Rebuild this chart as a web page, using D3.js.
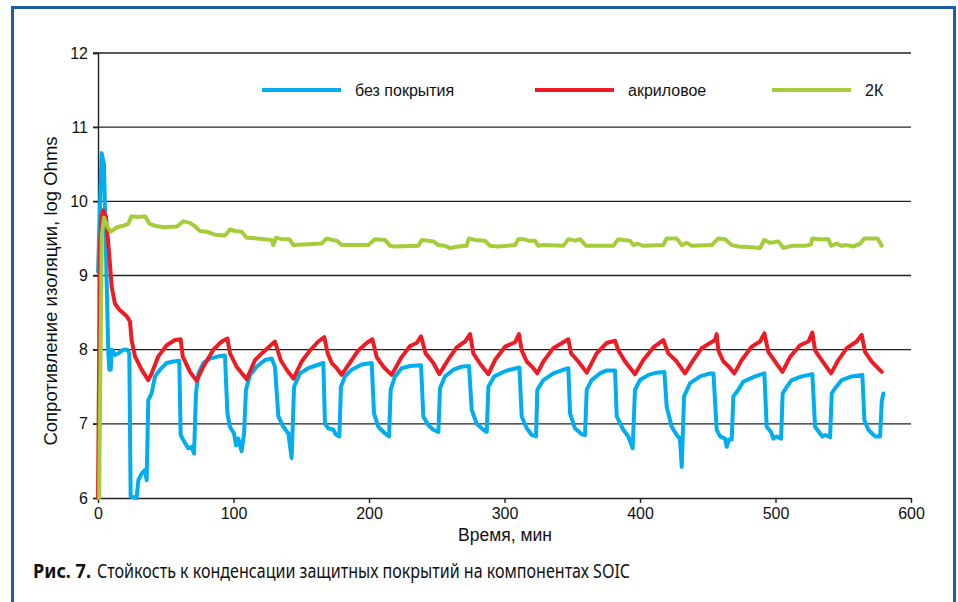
<!DOCTYPE html>
<html>
<head>
<meta charset="utf-8">
<script src="https://cdn.jsdelivr.net/npm/d3@7"></script>
<style>
  html, body { margin: 0; padding: 0; background: #fff; }
  svg { display: block; }
</style>
</head>
<body>
<div id="chart"></div>
<script>
(function () {
  'use strict';

  // Series: [time, log Ohms]
  const bare = [
    [0, 9.05], [2.7, 10.65], [4.4, 10.5], [7.6, 7.95], [8.4, 7.73], [9.4, 7.73], [10.1, 8.0], [12.5, 7.93],
    [15, 7.95], [18.7, 8.0], [21.6, 8.0], [23.1, 7.95], [24.1, 6.02], [28.5, 6.0], [29.8, 6.24], [32.2, 6.33],
    [34.7, 6.38], [35.9, 6.24], [37.1, 7.32], [39.6, 7.41], [42.1, 7.64], [45.8, 7.73], [50.7, 7.82], [55.6, 7.84],
    [60, 7.85], [61, 6.85], [64.2, 6.74], [66.7, 6.67], [69.1, 6.69], [70.9, 6.6], [72.3, 7.41], [74.1, 7.68],
    [77.7, 7.82], [82.7, 7.88], [88.8, 7.91], [93.7, 7.92], [95.5, 7.14], [97.4, 6.96], [100.4, 6.87], [101.9, 6.71],
    [103.6, 6.8], [106, 6.63], [107.8, 6.87], [109.2, 7.46], [112.2, 7.66], [117.1, 7.77], [123.2, 7.86], [128.2, 7.88],
    [130.6, 7.77], [133.1, 7.1], [136.8, 6.96], [140.5, 6.87], [142.9, 6.54], [144.7, 7.5], [149, 7.68], [155.2, 7.75],
    [161.4, 7.79], [166.3, 7.82], [167.5, 7.0], [170, 6.94], [173.7, 6.92], [175.4, 6.86], [178.1, 6.83], [179.3, 7.5],
    [182.3, 7.64], [187.2, 7.73], [194.6, 7.8], [202, 7.82], [203.7, 7.14], [206.9, 6.96], [211.8, 6.87], [214.8, 6.83],
    [216, 7.46], [219.2, 7.64], [224.1, 7.75], [230.3, 7.78], [238.4, 7.79], [240.1, 7.1], [243.8, 6.98], [247.5, 6.92],
    [251.2, 6.89], [252.4, 7.48], [256.1, 7.64], [262.3, 7.73], [268.4, 7.77], [273.8, 7.78], [275.8, 7.19], [279.5, 7.0],
    [284.4, 6.92], [286.9, 6.89], [288.1, 7.5], [292.5, 7.64], [300.4, 7.71], [304.1, 7.73], [311, 7.76], [312.7, 7.1],
    [316.4, 6.94], [320.1, 6.85], [323.3, 6.83], [324.2, 7.46], [328.7, 7.59], [336, 7.68], [342.2, 7.72], [347.1, 7.75],
    [348.4, 7.14], [352, 6.94], [357, 6.86], [359.4, 6.85], [360.7, 7.46], [364.3, 7.59], [370.5, 7.68], [375.4, 7.72],
    [381.6, 7.72], [382.8, 7.1], [387.7, 6.92], [391.4, 6.83], [394.6, 6.67], [396.3, 7.46], [400, 7.59], [406.2, 7.66],
    [412.3, 7.69], [418, 7.7], [419.7, 7.23], [423.4, 6.96], [427.1, 6.85], [429.5, 6.8], [430.8, 6.42], [432.5, 7.37],
    [437, 7.55], [444.3, 7.64], [451.7, 7.68], [454.2, 7.68], [456.6, 6.92], [459.1, 6.83], [462.8, 6.8], [464, 6.69],
    [465.7, 6.79], [467.7, 6.79], [468.9, 7.37], [472.6, 7.46], [476.3, 7.57], [484.9, 7.64], [491.8, 7.68], [493.5, 6.96],
    [496.7, 6.89], [498.4, 6.8], [500.9, 6.83], [504.1, 6.8], [505.3, 7.41], [508.3, 7.5], [512, 7.59], [519.3, 7.64],
    [527.2, 7.67], [529.2, 6.96], [532.9, 6.87], [534.6, 6.83], [536.6, 6.85], [540.3, 6.82], [541.5, 7.41], [544, 7.48],
    [548.9, 7.59], [556.2, 7.64], [564.1, 7.66], [565.6, 7.05], [568.5, 6.92], [573.5, 6.83], [577.2, 6.83], [578.4, 7.3],
    [579.6, 7.41]
  ];

  const acrylic = [
    [0, 6.0], [1.5, 9.4], [2.6, 9.8], [3.9, 9.88], [5.9, 9.79], [8.4, 9.25], [10.1, 8.85], [12.5, 8.62],
    [16.2, 8.53], [21.2, 8.45], [23.6, 8.38], [24.8, 8.13], [27.3, 7.91], [32.2, 7.73], [37.1, 7.59], [39.6, 7.68],
    [44.5, 7.91], [50.7, 8.06], [56.8, 8.13], [61, 8.14], [62.5, 7.91], [67.9, 7.7], [72.8, 7.58], [77.7, 7.77],
    [85.1, 8.0], [91.3, 8.11], [95.5, 8.15], [97.4, 7.95], [102.3, 7.77], [109.7, 7.6], [115.9, 7.86], [122, 7.97],
    [130.6, 8.11], [134.8, 7.86], [139.2, 7.73], [144.2, 7.61], [150.3, 7.84], [156.5, 7.99], [162.6, 8.11], [167, 8.17],
    [169.5, 7.95], [172.5, 7.82], [176.2, 7.75], [179.8, 7.66], [187.2, 7.86], [192.1, 7.99], [198.3, 8.09], [202.5, 8.14],
    [205.7, 7.9], [210.6, 7.77], [216.7, 7.66], [224.1, 7.9], [230.3, 8.05], [235.2, 8.09], [238.4, 8.18], [241.8, 7.95],
    [247.5, 7.82], [251.9, 7.67], [258.6, 7.87], [264.7, 8.03], [270.9, 8.11], [274.6, 8.21], [277, 7.95], [282, 7.81],
    [288.1, 7.67], [293, 7.86], [300.4, 8.04], [307.8, 8.1], [310.7, 8.21], [312.7, 7.99], [316.4, 7.84], [321.3, 7.75],
    [324.2, 7.68], [328.7, 7.84], [336, 8.02], [343.4, 8.1], [347.1, 8.14], [349.1, 7.95], [354.5, 7.84], [360.7, 7.69],
    [368, 7.95], [375.4, 8.09], [381.6, 8.12], [384, 7.99], [389, 7.84], [396.3, 7.67], [402.5, 7.86], [409.9, 8.03],
    [417.2, 8.13], [420.9, 7.95], [427.1, 7.84], [433.2, 7.68], [439.4, 7.86], [445.5, 8.02], [451.7, 8.09], [455.4, 8.13],
    [456.6, 8.21], [457.8, 7.99], [461.5, 7.84], [465.7, 7.77], [469.6, 7.68], [475.1, 7.86], [482.4, 8.04], [488.6, 8.11],
    [491.8, 8.22], [494.7, 7.97], [499.7, 7.84], [505.1, 7.7], [510.7, 7.9], [518.1, 8.06], [524.3, 8.11], [527.2, 8.23],
    [529.2, 7.99], [534.1, 7.86], [541, 7.68], [546.4, 7.86], [552.6, 8.02], [559.9, 8.11], [563.6, 8.2], [566.1, 7.97],
    [571, 7.84], [578.4, 7.7]
  ];

  const twoK = [
    [0.8, 6.0], [2.8, 9.55], [4.4, 9.78], [6.9, 9.66], [9.4, 9.59], [13.8, 9.65], [18.7, 9.67], [22.4, 9.7],
    [24.8, 9.8], [29.8, 9.79], [34.7, 9.8], [37.9, 9.7], [42.1, 9.67], [48.2, 9.65], [58.1, 9.66], [63, 9.73],
    [67.9, 9.71], [70.4, 9.68], [75.3, 9.6], [80.2, 9.59], [86.4, 9.55], [93.7, 9.54], [97.4, 9.62], [101.1, 9.6],
    [106, 9.59], [109.7, 9.51], [117.1, 9.5], [128.2, 9.48], [129.4, 9.41], [131.4, 9.51], [135.6, 9.49], [141.2, 9.49],
    [144.2, 9.41], [155.2, 9.42], [165, 9.43], [168.8, 9.5], [172.5, 9.48], [176.2, 9.47], [179.8, 9.41], [184.8, 9.41],
    [199.5, 9.41], [204.4, 9.49], [211.8, 9.48], [215.5, 9.4], [219.2, 9.39], [236.4, 9.4], [238.9, 9.48], [247.5, 9.46],
    [251.2, 9.41], [256.1, 9.4], [259.8, 9.37], [266, 9.39], [272, 9.4], [273.8, 9.5], [278.2, 9.48], [285.6, 9.47],
    [289.3, 9.4], [295.5, 9.39], [307.8, 9.41], [310.2, 9.49], [313.9, 9.49], [317.6, 9.47], [322.5, 9.47], [325, 9.4],
    [328.7, 9.41], [343.4, 9.4], [347.1, 9.49], [352, 9.47], [355.7, 9.49], [360.2, 9.4], [380.3, 9.4], [384, 9.49],
    [387.7, 9.48], [392.6, 9.47], [395.1, 9.41], [398, 9.43], [402.5, 9.4], [417.2, 9.41], [419.7, 9.5], [427.1, 9.5],
    [430.8, 9.41], [434.5, 9.44], [438.2, 9.4], [452.9, 9.41], [457.8, 9.5], [462.8, 9.49], [467.7, 9.41], [472.6, 9.39],
    [482.4, 9.38], [488.6, 9.37], [491.8, 9.48], [496, 9.44], [502.1, 9.46], [505.8, 9.37], [512, 9.4], [521.8, 9.4],
    [526.2, 9.42], [527.2, 9.5], [532.9, 9.49], [539, 9.49], [541, 9.4], [545.2, 9.43], [548.9, 9.4], [552.6, 9.41],
    [557.5, 9.39], [562.4, 9.43], [565.6, 9.5], [575.4, 9.5], [578.4, 9.4]
  ];

  const seriesNames = ['без покрытия', 'акриловое', '2К'];
  const xTicks = [0, 100, 200, 300, 400, 500, 600];
  const yTicks = [6, 7, 8, 9, 10, 11, 12];

  const W = 958, H = 602;
  const margin = { left: 98, right: 47, top: 53, bottom: 104 };
  const colors = ['#00aeef', '#ed1c24', '#a5cd39'];
  const font = 'Liberation Sans, Arial, sans-serif';

  const svg = d3.select('#chart').append('svg')
    .attr('width', W)
    .attr('height', H);

  svg.append('rect').attr('width', W).attr('height', H).attr('fill', '#fff');

  // blue frame, open past the bottom edge
  svg.append('rect')
    .attr('x', 12.5).attr('y', 7.5)
    .attr('width', 942).attr('height', 640)
    .attr('fill', 'none')
    .attr('stroke', '#1f5ca6')
    .attr('stroke-width', 3);

  const x = d3.scaleLinear().domain([0, 600]).range([margin.left, W - margin.right]);
  const y = d3.scaleLinear().domain([6, 12]).range([H - margin.bottom, margin.top]);

  // gridlines
  svg.append('g')
    .selectAll('line')
    .data(yTicks.filter(v => v > 6))
    .join('line')
    .attr('x1', x(0) - 5)
    .attr('x2', x(600))
    .attr('y1', d => y(d))
    .attr('y2', d => y(d))
    .attr('stroke', '#222')
    .attr('stroke-width', 1.4);

  // y axis
  const yAxis = svg.append('g')
    .attr('transform', `translate(${x(0)},0)`)
    .call(d3.axisLeft(y).tickValues(yTicks).tickSize(5).tickPadding(5).tickFormat(d3.format('d')));
  yAxis.select('.domain').attr('stroke', '#222').attr('stroke-width', 1.4);
  yAxis.selectAll('.tick line').attr('stroke', '#222').attr('stroke-width', 1.4);
  yAxis.selectAll('text').attr('font-family', font).attr('font-size', 16).attr('fill', '#111');

  // x axis
  const xAxis = svg.append('g')
    .attr('transform', `translate(0,${y(6)})`)
    .call(d3.axisBottom(x).tickValues(xTicks).tickSize(5).tickSizeOuter(0).tickPadding(5).tickFormat(d3.format('d')));
  xAxis.select('.domain').attr('stroke', '#222').attr('stroke-width', 1.4);
  xAxis.selectAll('.tick line').attr('stroke', '#222').attr('stroke-width', 1.4);
  xAxis.selectAll('text').attr('font-family', font).attr('font-size', 16).attr('fill', '#111');

  // series
  const line = d3.line().x(d => x(d[0])).y(d => y(d[1]));
  [bare, acrylic, twoK].forEach((data, i) => {
    svg.append('path')
      .datum(data)
      .attr('d', line)
      .attr('fill', 'none')
      .attr('stroke', colors[i])
      .attr('stroke-width', 4)
      .attr('stroke-linejoin', 'round')
      .attr('stroke-linecap', 'round');
  });

  // legend
  const legendX = [262, 535, 772];
  const legend = svg.append('g');
  seriesNames.forEach((name, i) => {
    legend.append('line')
      .attr('x1', legendX[i]).attr('x2', legendX[i] + 79)
      .attr('y1', 90).attr('y2', 90)
      .attr('stroke', colors[i])
      .attr('stroke-width', 4);
    legend.append('text')
      .attr('x', legendX[i] + 93)
      .attr('y', 95.5)
      .attr('font-family', font)
      .attr('font-size', 16)
      .attr('fill', '#111')
      .text(name);
  });

  // axis titles
  svg.append('text')
    .attr('x', 505).attr('y', 541)
    .attr('text-anchor', 'middle')
    .attr('font-family', font)
    .attr('font-size', 17.5)
    .attr('fill', '#111')
    .text('Время, мин');

  svg.append('text')
    .attr('transform', 'translate(57,291) rotate(-90)')
    .attr('text-anchor', 'middle')
    .attr('font-family', font)
    .attr('font-size', 18.5)
    .attr('fill', '#111')
    .text('Сопротивление изоляции, log Ohms');

  // caption
  svg.append('text')
    .attr('x', 33).attr('y', 578)
    .attr('font-family', 'Noto Sans, DejaVu Sans, sans-serif')
    .attr('font-size', 19)
    .attr('font-weight', 'bold')
    .attr('fill', '#111')
    .attr('textLength', 58)
    .attr('lengthAdjust', 'spacingAndGlyphs')
    .text('Рис. 7.');

  svg.append('text')
    .attr('x', 97).attr('y', 578)
    .attr('font-family', 'Noto Sans, DejaVu Sans, sans-serif')
    .attr('font-size', 19)
    .attr('fill', '#111')
    .attr('textLength', 533)
    .attr('lengthAdjust', 'spacingAndGlyphs')
    .text('Стойкость к конденсации защитных покрытий на компонентах SOIC');
})();
</script>
</body>
</html>
